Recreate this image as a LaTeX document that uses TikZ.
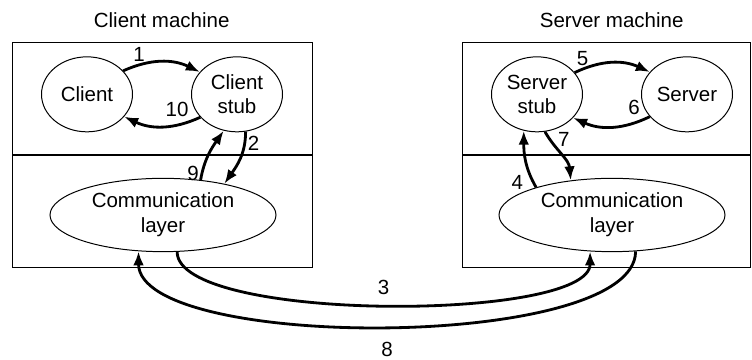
\documentclass[tikz,border=0pt]{standalone}
\usepackage{fontspec}
\setmainfont{Liberation Sans}
\usetikzlibrary{shapes.geometric,arrows.meta}

\begin{document}
\begin{tikzpicture}[font=\fontsize{17.5}{21}\selectfont]

\tikzstyle{machine}=[draw,line width=1.1pt]
\tikzstyle{blob}=[ellipse,draw,line width=0.85pt,inner sep=0pt,align=center,minimum width=2.73cm,minimum height=2.25cm]
\tikzstyle{layer}=[blob,minimum width=6.78cm,minimum height=2.2cm]
\tikzstyle{msg}=[draw,line width=2.4pt,-{Latex[length=0.42cm,width=0.32cm]}]
\tikzstyle{num}=[inner sep=1.5pt]
% push two-line labels a little below the centre
\tikzset{textdrop/.style={execute at begin node={\rule{0pt}{#1}}}}

\def \ytop {9.53}
\def \ymid {6.15}
\def \ybot {2.78}

\useasboundingbox (0,0) rectangle (22.56,10.8);

% the two machines, each split into two layers
\foreach \xl/\xr in {0.37/9.37, 13.87/22.52}
{
  \draw[machine] (\xl,\ybot) rectangle (\xr,\ytop);
  \draw[machine] (\xl,\ymid) -- (\xr,\ymid);
}

\node (cmach) at (4.85,10.2) {Client machine};
\node (smach) at (18.35,10.2) {Server machine};

\node[blob] (client) at (2.61,7.97) {Client};
\node[blob,textdrop=0.82cm] (cstub) at (7.11,7.97) {Client\\stub};
\node[blob,textdrop=0.82cm] (sstub) at (16.11,7.97) {Server\\stub};
\node[blob] (server) at (20.61,7.97) {Server};
\node[layer,textdrop=0.73cm] (lcomm) at (4.89,4.35) {Communication\\layer};
\node[layer,textdrop=0.73cm] (rcomm) at (18.36,4.35) {Communication\\layer};

% calls and returns between a process and its stub
\foreach \source/\dest/\p/\gap/\n in {client.33/cstub.149/0.2/0pt/1, cstub.212/client.-31/0.3/0.15cm/10, sstub.30/server.149/0.1/0pt/5, server.211/sstub.-33/0.2/0.15cm/6}
{
  \path[msg] (\source) to[bend left=25] node[num,above=\gap,pos=\p] {\n} (\dest);
}

% stub <-> communication layer
\draw[msg] (cstub.283) to[out=-90,in=55] node[num,right,pos=.2] {2} (lcomm.27);
\draw[msg] (lcomm.43) to[out=80,in=-125] node[num,left,pos=.1] {9} (cstub.250);
\draw[msg] (sstub.282) to[out=-60,in=95] node[num,right=0.15cm,pos=.15] {7} (rcomm.140);
\draw[msg] (rcomm.160) to[out=120,in=-90] node[num,left=0.22cm,pos=.08] {4} (sstub.250);

% over the network
\draw[msg] (lcomm.-69) .. controls +(0,-2.12) and +(0,-2.12) .. node[num,above=0.2cm] {3} (rcomm.-121);
\draw[msg] (rcomm.-57) .. controls +(0,-3.0) and +(0,-3.0) .. node[num,below=0.39cm] {8} (lcomm.-124);

\end{tikzpicture}
\end{document}
